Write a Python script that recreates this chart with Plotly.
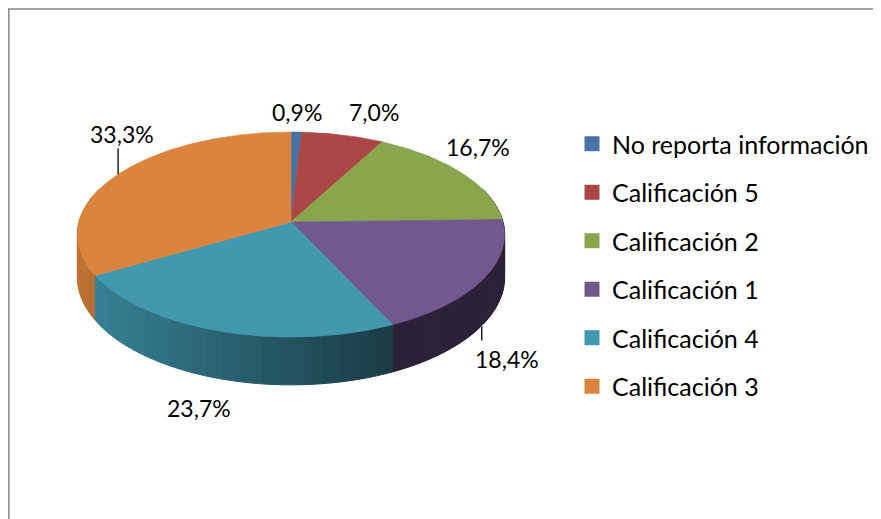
import numpy as np
import plotly.graph_objects as go

# ---------------- data ----------------
categories = ["No reporta información", "Calificación 5", "Calificación 2",
              "Calificación 1", "Calificación 4", "Calificación 3"]
values = [0.9, 7.0, 16.7, 18.4, 23.7, 33.3]
colors = ["#4572A7", "#AA4643", "#89A54E", "#71588F", "#4198AF", "#DB843D"]
label_pos = [(297, 112), (374, 112), (478, 147), (507, 359), (199, 408), (122, 134)]

# ---------------- geometry (styling) ----------------
W, H = 881, 519
OFF = 8                    # page body margin
CX, CY = 291, 222          # apex of the pie (page pixels)
B, A, K, D = 212, 101, 0.122, 42
FONT = "Lato"


def proj(theta_deg, drop=0.0):
    t = np.radians(theta_deg)
    u, v = np.sin(t), np.cos(t)
    s = 1 + K * v
    return CX + B * u / s, CY - A * v / s + drop / s


def hex2rgb(h):
    h = h.lstrip("#")
    return tuple(int(h[i:i + 2], 16) for i in (0, 2, 4))


def shade(h, f):
    r, g, b = hex2rgb(h)
    return "rgb(%d,%d,%d)" % (r * f, g * f, b * f)


total = float(sum(values))
bounds = np.concatenate([[0.0], np.cumsum(values)]) / total * 360.0

fig = go.Figure()

# ---- side strips (gradient) ----
strips = []
for i, col in enumerate(colors):
    a0, a1 = max(bounds[i], 70.0), min(bounds[i + 1], 290.0)
    if a1 <= a0:
        continue
    n = max(1, int(np.ceil((a1 - a0) / 2.0)))
    edges = np.linspace(a0, a1, n + 1)
    for b0, b1 in zip(edges[:-1], edges[1:]):
        th = np.linspace(b0, b1, 4)
        xt, yt = proj(th)
        xb, yb = proj(th[::-1], D)
        xs = np.concatenate([xt, xb, xt[:1]])
        ys = np.concatenate([yt, yb, yt[:1]])
        xm, _ = proj((b0 + b1) / 2)
        tt = (xm - (CX - B)) / (2 * B)
        f = max(0.39, 0.87 - 0.65 * tt)
        depth = np.cos(np.radians((b0 + b1) / 2))
        strips.append((depth, xs, ys, shade(col, f)))

strips.sort(key=lambda s: -s[0])
for _, xs, ys, c in strips:
    fig.add_trace(go.Scatter(x=xs, y=ys, mode="lines", fill="toself",
                             fillcolor=c, line=dict(color=c, width=1),
                             hoverinfo="skip", showlegend=False))

# ---- top faces ----
for i, col in enumerate(colors):
    th = np.linspace(bounds[i], bounds[i + 1], max(3, int((bounds[i + 1] - bounds[i]) * 2)))
    xr, yr = proj(th)
    xs = np.concatenate([[CX], xr, [CX]])
    ys = np.concatenate([[CY], yr, [CY]])
    fig.add_trace(go.Scatter(x=xs, y=ys, mode="lines", fill="toself",
                             fillcolor=col, line=dict(color=col, width=0.6),
                             hoverinfo="skip", showlegend=False))

# ---- leader lines (for 33,3% and 18,4%) ----
mid = (bounds[:-1] + bounds[1:]) / 2
xo, yo = proj(mid[5])
fig.add_trace(go.Scatter(x=[xo, xo], y=[yo, yo - 26], mode="lines",
                         line=dict(color="black", width=1.3),
                         hoverinfo="skip", showlegend=False))
xp, yp = proj(mid[3], D)
fig.add_trace(go.Scatter(x=[xp - 2, xp - 2], y=[yp + 3, yp + 17], mode="lines",
                         line=dict(color="black", width=1.3),
                         hoverinfo="skip", showlegend=False))

# ---- labels ----
for v, (lx, ly) in zip(values, label_pos):
    fig.add_annotation(x=lx, y=ly, text=("%.1f" % v).replace(".", ",") + "%",
                       showarrow=False, xanchor="center", yanchor="middle",
                       font=dict(family=FONT, size=23, color="black"))

# ---- legend entries ----
for i, (cat, col) in enumerate(zip(categories, colors)):
    fig.add_trace(go.Scatter(x=[None], y=[None], mode="markers", name=cat,
                             legendgroup="g%d" % i,
                             marker=dict(symbol="square", size=15, color=col)))

# frame (top and left edges)
fig.add_shape(type="line", x0=0, x1=W + OFF + 5, y0=9, y1=9,
              line=dict(color="#868686", width=1.5))
fig.add_shape(type="line", xref="paper", x0=0.001, x1=0.001, y0=9, y1=H + OFF + 5,
              line=dict(color="#868686", width=1.5))

fig.update_layout(
    width=W, height=H,
    margin=dict(l=0, r=0, t=0, b=0),
    paper_bgcolor="white", plot_bgcolor="white",
    xaxis=dict(range=[OFF, W + OFF], visible=False, fixedrange=True),
    yaxis=dict(range=[H + OFF, OFF], visible=False, fixedrange=True),
    showlegend=True,
    legend=dict(x=(572 - OFF) / W, y=1 - (121 - OFF) / H, xanchor="left", yanchor="top",
                font=dict(family=FONT, size=25, color="black"),
                tracegroupgap=13, itemsizing="trace",
                bgcolor="rgba(0,0,0,0)"),
    font=dict(family=FONT),
)

fig.write_html("out.html")
